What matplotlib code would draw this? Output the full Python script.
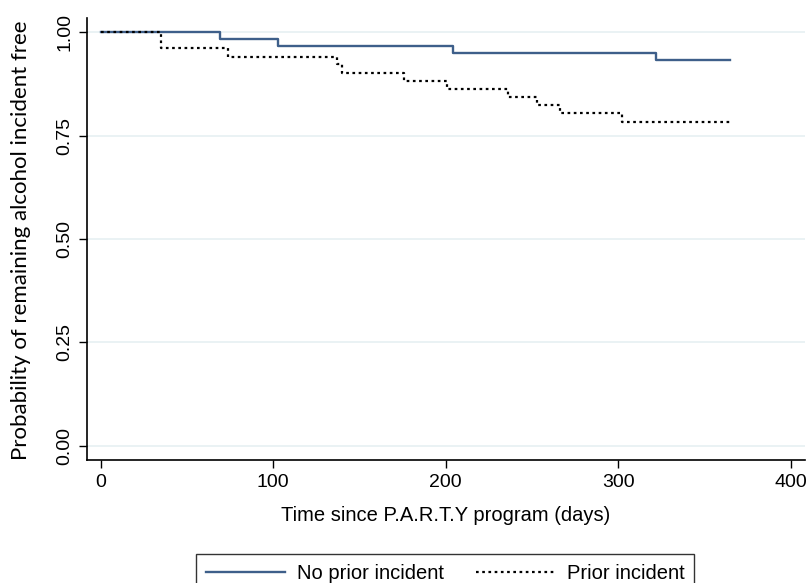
import numpy as np
import matplotlib
matplotlib.use('Agg')
import matplotlib.pyplot as plt

# Kaplan-Meier step data
days_no_prior = [0, 69, 103, 204, 322, 365]
surv_no_prior = [1.0, 0.983, 0.966, 0.949, 0.932, 0.932]

days_prior = [0, 35, 74, 137, 140, 176, 201, 236, 253, 266, 302, 365]
surv_prior = [1.0, 0.961, 0.941, 0.922, 0.902, 0.882, 0.863, 0.843, 0.824, 0.804, 0.784, 0.784]

xticks = [0, 100, 200, 300, 400]
yticks = [0.0, 0.25, 0.5, 0.75, 1.0]
ytick_labels = ['0.00', '0.25', '0.50', '0.75', '1.00']

narrow = ['Liberation Sans', 'DejaVu Sans']

fig = plt.figure(figsize=(8.08, 5.83), dpi=100)
ax = fig.add_axes([0.1077, 0.211, 0.888, 0.758])

for y in yticks:
    ax.axhline(y, color='#e6f0f2', lw=1.2, zorder=0)

ax.step(days_no_prior, surv_no_prior, where='post', color='#3e5f8a', lw=1.7,
        label='No prior incident')
ax.step(days_prior, surv_prior, where='post', color='black', lw=1.6,
        linestyle=(0, (1.2, 1.6)), label='Prior incident')

ax.set_xlim(-8, 408)
ax.set_ylim(-0.034, 1.034)
ax.set_xticks(xticks)
ax.set_xticklabels([str(t) for t in xticks], family=narrow, fontsize=14)
ax.set_yticks(yticks)
ax.set_yticklabels(ytick_labels, family=narrow, fontsize=14, rotation=90, va='center')
ax.tick_params(direction='out', length=6, width=1, color='black', pad=4)

for s in ['top', 'right']:
    ax.spines[s].set_visible(False)
ax.spines['left'].set_linewidth(1.2)
ax.spines['bottom'].set_linewidth(1.2)

ax.set_xlabel('Time since P.A.R.T.Y program (days)', family=narrow, fontsize=14.5, labelpad=11)
fig.text(0.026, 0.588, 'Probability of remaining alcohol incident free', rotation=90,
         ha='center', va='center', family=['Lato', 'DejaVu Sans'], fontsize=16)

leg = fig.legend(loc='upper center', bbox_to_anchor=(0.551, 0.067), ncol=2,
                 prop={'family': narrow, 'size': 14.5}, handlelength=3.9,
                 columnspacing=1.6, frameon=True, fancybox=False,
                 borderpad=0.5, handletextpad=0.6)
leg.get_frame().set_edgecolor('black')
leg.get_frame().set_linewidth(1.0)

fig.savefig('out.png', dpi=100)
